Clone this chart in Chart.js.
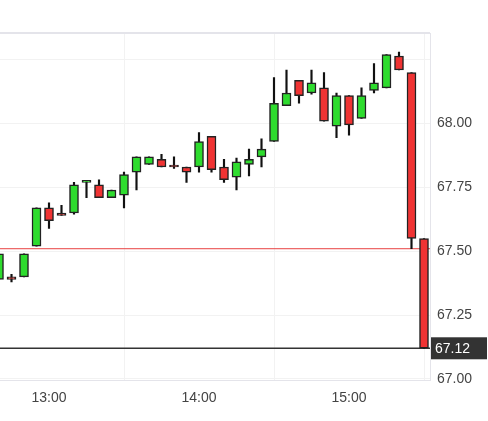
<!DOCTYPE html>
<html><head><meta charset="utf-8">
<script src="https://cdn.jsdelivr.net/npm/chart.js@4/dist/chart.umd.min.js"></script>
<style>html,body{margin:0;padding:0;background:#fff}#w{width:488px;height:421px}</style>
</head><body><div id="w"><canvas id="c"></canvas></div>
<script>
// times in minutes since midnight
const times = [760,765,770,775,780,785,790,795,800,805,810,815,820,825,830,835,840,845,850,855,860,865,870,875,880,885,890,895,900,905,910,915,920,925,930];
const opens  = [67.39,67.40,67.40,67.52,67.67,67.65,67.65,67.77,67.76,67.71,67.72,67.81,67.84,67.86,67.835,67.83,67.83,67.95,67.83,67.79,67.84,67.87,67.93,68.07,68.17,68.12,68.14,67.99,68.11,68.02,68.13,68.14,68.265,68.20,67.55];
const closes = [67.49,67.39,67.49,67.67,67.62,67.64,67.76,67.77,67.71,67.74,67.80,67.87,67.87,67.83,67.83,67.81,67.93,67.82,67.78,67.85,67.86,67.90,68.08,68.12,68.11,68.16,68.01,68.11,67.995,68.11,68.16,68.27,68.21,67.55,67.12];
const highs  = [67.49,67.41,67.49,67.67,67.69,67.68,67.77,67.775,67.78,67.74,67.81,67.87,67.87,67.88,67.87,67.83,67.965,67.95,67.86,67.865,67.90,67.94,68.18,68.21,68.17,68.21,68.20,68.12,68.11,68.14,68.235,68.27,68.28,68.20,67.55];
const lows   = [67.39,67.38,67.40,67.52,67.59,67.64,67.645,67.71,67.71,67.71,67.67,67.74,67.84,67.83,67.825,67.77,67.81,67.81,67.77,67.74,67.795,67.83,67.93,68.07,68.08,68.115,68.01,67.945,67.955,68.02,68.12,68.14,68.21,67.51,67.12];
const refLine = 67.51;
const lastPrice = 67.12;
const xTicks = [780,840,900];
const yTicks = [67.00,67.25,67.50,67.75,68.00,68.25];

const xMin = 760.4, xMax = 932.4;
const up = '#2edc2e', down = '#f03333';
const bodies = times.map((t,i)=>({x:t,y:[Math.min(opens[i],closes[i]),Math.max(opens[i],closes[i])]}));
const wicks = times.map((t,i)=>({x:t,y:[lows[i],highs[i]]}));
const colors = times.map((t,i)=>closes[i]>=opens[i]?up:down);

const lastLabel = {
  id:'lastLabel',
  afterDraw(chart){
    const ctx=chart.ctx, ys=chart.scales.y, y=ys.getPixelForValue(lastPrice);
    const x0=chart.chartArea.right+1;
    ctx.save();
    ctx.fillStyle='#333';
    ctx.fillRect(x0,y-11,56,22);
    ctx.fillStyle='#fff';
    ctx.font='14px "Liberation Sans", Arial, sans-serif';
    ctx.textBaseline='middle';
    ctx.fillText(lastPrice.toFixed(2),x0+4,y+1);
    ctx.restore();
  }
};

new Chart(document.getElementById('c'),{
  data:{datasets:[
    {type:'line',data:[{x:xMin,y:refLine},{x:xMax,y:refLine}],borderColor:'#e84040',borderWidth:1,pointRadius:0,order:5},
    {type:'line',data:[{x:xMin,y:lastPrice},{x:xMax,y:lastPrice}],borderColor:'#333',borderWidth:1.5,pointRadius:0,order:5},
    {type:'bar',data:wicks,backgroundColor:'#111',borderWidth:0,barThickness:1.5,grouped:false,order:3},
    {type:'bar',data:bodies,backgroundColor:colors,borderColor:'#222',borderWidth:1.5,borderSkipped:false,barThickness:9,minBarLength:2,grouped:false,order:1}
  ]},
  options:{
    responsive:true,maintainAspectRatio:false,animation:false,
    layout:{padding:{top:33,left:0,right:0,bottom:4}},
    plugins:{legend:{display:false},tooltip:{enabled:false}},
    scales:{
      x:{type:'linear',min:xMin,max:xMax,offset:false,
        afterBuildTicks(s){s.ticks=xTicks.map(v=>({value:v}));},
        ticks:{color:'#444',font:{size:14,family:'"Liberation Sans", Arial, sans-serif'},padding:10,
          callback:v=>Math.floor(v/60)+':'+String(v%60).padStart(2,'0')},
        grid:{color:'#f2f2f2',drawTicks:false},border:{color:'#e4e4ea'}},
      y:{position:'right',min:66.995,max:68.355,
        afterBuildTicks(s){s.ticks=yTicks.map(v=>({value:v}));},
        afterFit(s){s.width=58;},
        ticks:{color:'#444',font:{size:14,family:'"Liberation Sans", Arial, sans-serif'},padding:7,
          callback:v=>v>68.1?'':v.toFixed(2)},
        grid:{color:'#f2f2f2',drawTicks:false},border:{color:'#e4e4ea'}}
    }
  },
  plugins:[lastLabel,{id:'topBorder',afterDraw(c){const a=c.chartArea,ctx=c.ctx;ctx.save();ctx.strokeStyle='#e4e4ea';ctx.lineWidth=2;ctx.beginPath();ctx.moveTo(a.left,a.top);ctx.lineTo(a.right,a.top);ctx.stroke();ctx.restore();}}]
});
</script></body></html>
